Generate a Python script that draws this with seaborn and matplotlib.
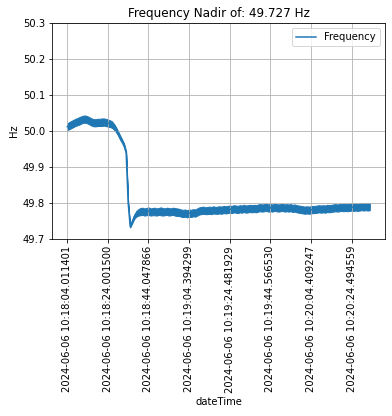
"""Grafico de frecuencia con nadir."""

import matplotlib
matplotlib.use("Agg")
import matplotlib.pyplot as plt
import numpy as np
import pandas as pd
import seaborn as sns

# envolvente superior e inferior de la senal, una lectura cada 10 muestras
sample_step = 10
freq_hi = [
    50.021, 50.025, 50.028, 50.031, 50.034, 50.036, 50.039, 50.041, 50.043, 50.043,
    50.041, 50.038, 50.035, 50.033, 50.033, 50.034, 50.034, 50.035, 50.035, 50.034,
    50.032, 50.030, 50.027, 50.020, 50.011, 50.000, 49.988, 49.977, 49.965, 49.944,
    49.802, 49.736, 49.752, 49.768, 49.778, 49.783, 49.786, 49.787, 49.785, 49.786,
    49.788, 49.785, 49.786, 49.787, 49.785, 49.786, 49.788, 49.786, 49.785, 49.787,
    49.786, 49.785, 49.787, 49.786, 49.785, 49.784, 49.782, 49.781, 49.782, 49.780,
    49.782, 49.781, 49.783, 49.782, 49.785, 49.788, 49.789, 49.790, 49.788, 49.789,
    49.790, 49.789, 49.791, 49.789, 49.790, 49.791, 49.790, 49.792, 49.791, 49.792,
    49.793, 49.792, 49.794, 49.793, 49.792, 49.794, 49.793, 49.795, 49.793, 49.794,
    49.795, 49.794, 49.795, 49.794, 49.796, 49.797, 49.796, 49.797, 49.798, 49.796,
    49.797, 49.796, 49.798, 49.797, 49.796, 49.797, 49.798, 49.796, 49.797, 49.796,
    49.797, 49.795, 49.796, 49.794, 49.793, 49.792, 49.791, 49.790, 49.791, 49.790,
    49.791, 49.792, 49.792, 49.793, 49.794, 49.793, 49.794, 49.793, 49.795, 49.794,
    49.795, 49.796, 49.797, 49.796, 49.797, 49.798, 49.797, 49.798, 49.797, 49.798,
    49.799, 49.798, 49.799, 49.798, 49.799, 49.800, 49.799, 49.800, 49.799, 49.800,
]
freq_lo = [
    50.003, 50.005, 50.008, 50.011, 50.014, 50.016, 50.018, 50.021, 50.023, 50.023,
    50.021, 50.018, 50.015, 50.013, 50.013, 50.014, 50.014, 50.014, 50.015, 50.014,
    50.012, 50.011, 50.009, 50.004, 49.997, 49.988, 49.976, 49.967, 49.955, 49.936,
    49.798, 49.732, 49.744, 49.756, 49.762, 49.765, 49.766, 49.767, 49.765, 49.766,
    49.767, 49.765, 49.766, 49.766, 49.765, 49.767, 49.766, 49.765, 49.766, 49.767,
    49.765, 49.766, 49.767, 49.765, 49.764, 49.764, 49.762, 49.761, 49.762, 49.760,
    49.762, 49.761, 49.763, 49.762, 49.765, 49.768, 49.769, 49.770, 49.769, 49.769,
    49.770, 49.769, 49.771, 49.770, 49.770, 49.771, 49.770, 49.772, 49.771, 49.772,
    49.773, 49.772, 49.774, 49.773, 49.772, 49.774, 49.773, 49.775, 49.773, 49.774,
    49.775, 49.774, 49.775, 49.774, 49.776, 49.777, 49.776, 49.777, 49.778, 49.776,
    49.777, 49.776, 49.778, 49.777, 49.776, 49.777, 49.778, 49.776, 49.777, 49.776,
    49.777, 49.775, 49.776, 49.774, 49.773, 49.772, 49.771, 49.770, 49.771, 49.770,
    49.771, 49.772, 49.772, 49.773, 49.774, 49.773, 49.774, 49.773, 49.775, 49.774,
    49.775, 49.776, 49.777, 49.776, 49.777, 49.778, 49.777, 49.778, 49.777, 49.778,
    49.779, 49.778, 49.779, 49.778, 49.779, 49.780, 49.779, 49.780, 49.779, 49.780,
]
sample_idx = np.arange(len(freq_hi)) * sample_step

tick_idx = [0, 200, 400, 600, 800, 1000, 1200, 1400]
tick_labels = [
    "2024-06-06 10:18:04.011401",
    "2024-06-06 10:18:24.001500",
    "2024-06-06 10:18:44.047866",
    "2024-06-06 10:19:04.394299",
    "2024-06-06 10:19:24.481929",
    "2024-06-06 10:19:44.566530",
    "2024-06-06 10:20:04.409247",
    "2024-06-06 10:20:24.494559",
]
nadir = 49.727

plot_data = pd.DataFrame(
    {
        "idx": np.concatenate([sample_idx, sample_idx]),
        "freq": freq_hi + freq_lo,
    }
)

fig = plt.figure(figsize=(392 / 72, 416 / 72), dpi=72)
ax = fig.add_axes([0.133, 0.4255, 0.849, 0.519])

sns.lineplot(
    data=plot_data,
    x="idx",
    y="freq",
    ax=ax,
    color="#1f77b4",
    linewidth=1.5,
    estimator="mean",
    errorbar=lambda v: (v.min(), v.max()),
    err_kws={"alpha": 1, "linewidth": 1, "edgecolor": "#1f77b4"},
    label="Frequency",
)
ax.set_xticks(tick_idx)
ax.set_xticklabels(tick_labels, rotation=90)
ax.set_ylim(49.7, 50.3)
ax.set_xlim(sample_idx[0] - 0.05 * sample_idx[-1], sample_idx[-1] * 1.05)
ax.grid(True)
ax.set_title(f"Frequency Nadir of: {nadir} Hz", fontsize=12)
ax.set_xlabel("dateTime")
ax.set_ylabel("Hz")
ax.legend(loc="upper right")

fig.savefig("out.png", dpi=72)
